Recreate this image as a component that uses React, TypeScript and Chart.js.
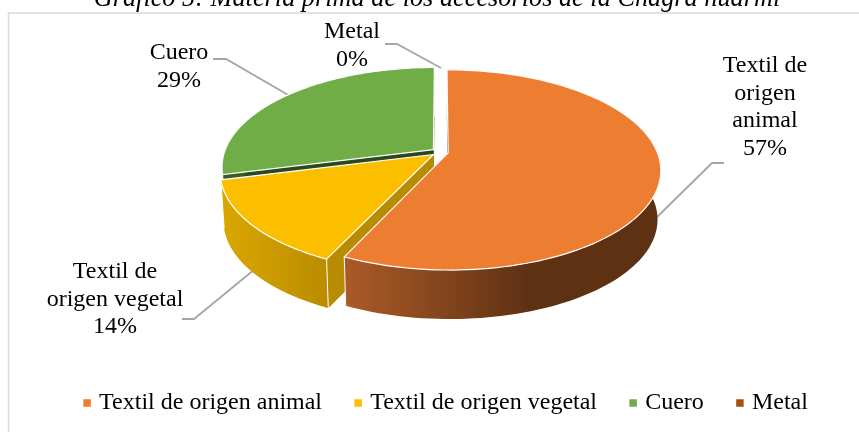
import React, { useEffect, useRef } from "react";
import { Chart, registerables } from "chart.js";

Chart.register(...registerables);

const categories = ["Textil de origen animal", "Textil de origen vegetal", "Cuero", "Metal"];
const values = [57, 14, 29, 0];
const sliceColors = ["#ED7D31", "#FBBF00", "#70AD47", "#A5500F"];
const labelLines = [["Textil de", "origen", "animal"], ["Textil de", "origen vegetal"], ["Cuero"], ["Metal"]];
const titleText = "Gráfico 5: Materia prima de los accesorios de la Chagra huarmi";

const SERIF = "'Liberation Serif', 'Times New Roman', serif";
const P = { cx: 440, cy: 152, rx: 209, ry: 96.9, k: 0.1704, explode: 0.04, depth: 49, shrink: 0.985 };

const wallStops: [number, number, string, string][] = [
  [342, 530, "#AD5B28", "#5E3113"],
  [227, 327, "#D8A600", "#BA8C00"],
  [222, 434, "#3A5F26", "#3A5F26"],
  [0, 1, "#000000", "#000000"],
];
const innerWalls = ["#5E3113", "#B98B00", "#2B4A1B", "#000000"];

const labelLayout = [
  { x: 765, y: 72, leader: [[724, 163], [712, 163], [655, 219]] },
  { x: 115, y: 278, leader: [[182, 319], [194, 319], [255, 269]] },
  { x: 179, y: 59, leader: [[213, 59], [226, 59], [290, 96]] },
  { x: 352, y: 38, leader: [[385, 44], [397, 44], [441, 68]] },
];

const project = (u: number, v: number) => {
  const w = 1 - P.k * v;
  return { x: P.cx + (P.rx * u) / w, y: P.cy + (P.ry * v) / w };
};
const lower = (p: { x: number; y: number }) => ({
  x: P.cx + (p.x - P.cx) * P.shrink,
  y: p.y + P.depth,
});

const pie3d = {
  id: "pie3d",
  beforeDraw(chart: any) {
    const { ctx } = chart;
    ctx.save();
    ctx.fillStyle = "#FFFFFF";
    ctx.fillRect(0, 0, chart.width, chart.height);
    ctx.strokeStyle = "#D9D9D9";
    ctx.lineWidth = 1.5;
    ctx.strokeRect(8.5, 13, chart.width + 20, chart.height + 20);
    ctx.fillStyle = "#000000";
    ctx.font = `italic 26.3px ${SERIF}`;
    ctx.textAlign = "center";
    ctx.textBaseline = "alphabetic";
    ctx.fillText(titleText, 437, 6);
    ctx.restore();
  },
  beforeDatasetsDraw(chart: any) {
    const { ctx } = chart;
    const arcs = chart.getDatasetMeta(0).data;
    const total = values.reduce((a, b) => a + b, 0);
    ctx.save();

    ctx.strokeStyle = "#A6A6A6";
    ctx.lineWidth = 1.8;
    labelLayout.forEach((l) => {
      ctx.beginPath();
      l.leader.forEach(([x, y], i) => (i ? ctx.lineTo(x, y) : ctx.moveTo(x, y)));
      ctx.stroke();
    });

    [2, 1, 0].forEach((i) => {
      const arc = arcs[i];
      const { startAngle: a0, endAngle: a1 } = arc.getProps(["startAngle", "endAngle"], true);
      if (a1 - a0 < 1e-6) return;
      const mid = (a0 + a1) / 2;
      const ou = P.explode * Math.cos(mid);
      const ov = P.explode * Math.sin(mid);
      const apex = project(ou, ov);
      const rim: { x: number; y: number }[] = [];
      const steps = 120;
      for (let s = 0; s <= steps; s++) {
        const a = a0 + ((a1 - a0) * s) / steps;
        rim.push(project(ou + Math.cos(a), ov + Math.sin(a)));
      }
      const path = (pts: { x: number; y: number }[], close = true) => {
        ctx.beginPath();
        pts.forEach((p, n) => (n ? ctx.lineTo(p.x, p.y) : ctx.moveTo(p.x, p.y)));
        if (close) ctx.closePath();
      };
      // inner walls
      ctx.fillStyle = innerWalls[i];
      ctx.strokeStyle = "#FFFFFF";
      ctx.lineWidth = 1;
      [rim[0], rim[rim.length - 1]].forEach((r) => {
        path([apex, r, lower(r), lower(apex)]);
        ctx.fill();
      });
      // outer wall
      const [g0, g1, c0, c1] = wallStops[i];
      const grad = ctx.createLinearGradient(g0, 0, g1, 0);
      grad.addColorStop(0, c0);
      grad.addColorStop(1, c1);
      ctx.fillStyle = grad;
      path([...rim, ...rim.map(lower).reverse()]);
      ctx.fill();
      [rim[0], rim[rim.length - 1]].forEach((r) => {
        path([r, lower(r)], false);
        ctx.stroke();
      });
      // top
      ctx.fillStyle = sliceColors[i];
      ctx.lineWidth = 1.2;
      path([apex, ...rim]);
      ctx.fill();
      ctx.stroke();
    });

    // labels
    ctx.fillStyle = "#000000";
    ctx.font = `24px ${SERIF}`;
    ctx.textAlign = "center";
    ctx.textBaseline = "alphabetic";
    labelLayout.forEach((l, i) => {
      const lines = [...labelLines[i], `${Math.round((values[i] / total) * 100)}%`];
      lines.forEach((t, n) => ctx.fillText(t, l.x, l.y + n * 27.6));
    });
    ctx.restore();
    return false;
  },
};

export default function App() {
  const ref = useRef<HTMLCanvasElement>(null);
  useEffect(() => {
    const chart = new Chart(ref.current as HTMLCanvasElement, {
      type: "pie",
      data: {
        labels: categories,
        datasets: [{ data: values, backgroundColor: sliceColors, borderWidth: 0 }],
      },
      options: {
        animation: false,
        responsive: false,
        layout: { padding: { left: 36, right: 0, top: 20, bottom: 7 } },
        plugins: {
          tooltip: { enabled: false },
          title: { display: false },
          legend: {
            display: true,
            position: "bottom",
            labels: {
              usePointStyle: true,
              pointStyle: "rect",
              boxWidth: 0.01,
              boxHeight: 7.5,
              padding: 36.1,
              color: "#000000",
              font: { family: SERIF, size: 24 },
            },
          },
        },
      },
      plugins: [pie3d],
    } as any);
    return () => chart.destroy();
  }, []);
  return (
    <div style={{ position: "fixed", left: 0, top: 0, width: 859, height: 432, overflow: "hidden" }}>
      <canvas ref={ref} width={859} height={432} style={{ display: "block" }} />
    </div>
  );
}
